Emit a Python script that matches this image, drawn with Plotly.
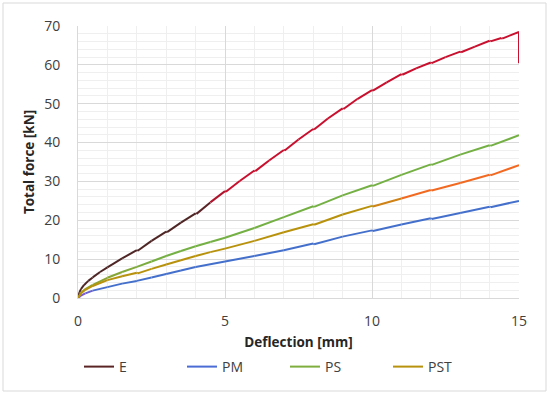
import plotly.graph_objects as go

# ---- data ----
e_x = [0, 0.05, 0.1, 0.2, 0.35, 0.5, 0.75, 1, 1.5, 2, 2.03, 2.5, 3, 3.03, 3.5, 4, 4.03, 4.5, 5, 5.03,
       5.5, 6, 6.03, 6.5, 7, 7.03, 7.5, 8, 8.03, 8.5, 9, 9.03, 9.5, 10, 10.03, 10.5, 11, 11.03, 11.5,
       12, 12.03, 12.5, 13, 13.03, 13.5, 14, 14.03, 14.4, 14.43, 15, 15]
e_y = [0, 1.5, 2.3, 3.3, 4.4, 5.3, 6.7, 7.9, 10.2, 12.3, 12.15, 14.7, 17.1, 16.95, 19.4, 21.8, 21.65, 24.6, 27.5, 27.35,
       30.1, 32.8, 32.65, 35.4, 38.1, 37.95, 40.8, 43.5, 43.35, 46.2, 48.8, 48.65, 51.2, 53.5, 53.35, 55.5, 57.6, 57.45,
       59.1, 60.6, 60.45, 62.0, 63.4, 63.25, 64.7, 66.2, 66.05, 66.9, 66.75, 68.5, 60.4]

pm_x = [0, 0.1, 0.25, 0.5, 1, 1.5, 2, 2.5, 3, 3.5, 4, 5, 6, 7, 8, 8.03, 9, 10, 10.03, 11, 12, 12.03, 13, 14, 14.03, 15]
pm_y = [0, 0.6, 1.2, 1.9, 2.8, 3.7, 4.4, 5.3, 6.2, 7.1, 8.0, 9.4, 10.8, 12.3, 14.0, 13.85, 15.8, 17.4, 17.25, 18.9,
        20.5, 20.35, 21.9, 23.5, 23.35, 25.0]

ps_x = [0, 0.1, 0.25, 0.5, 1, 1.5, 2, 2.5, 3, 3.5, 4, 4.5, 5, 6, 7, 8, 8.03, 9, 10, 10.03, 11, 12, 12.03, 13, 14,
        14.03, 15]
ps_y = [0, 1.3, 2.3, 3.4, 5.2, 6.7, 8.0, 9.4, 10.8, 12.1, 13.3, 14.4, 15.5, 18.0, 20.8, 23.6, 23.45, 26.4, 29.0, 28.85,
        31.7, 34.4, 34.25, 36.9, 39.3, 39.15, 41.9]

pst_x = [0, 0.1, 0.25, 0.5, 1, 1.5, 2, 2.03, 2.5, 3, 3.5, 4, 4.5, 5, 6, 7, 8, 8.03, 9, 10, 10.03, 11, 12, 12.03, 13,
         14, 14.03, 15]
pst_y = [0, 1.2, 2.1, 3.1, 4.6, 5.6, 6.5, 6.35, 7.5, 8.6, 9.7, 10.8, 11.8, 12.7, 14.7, 16.9, 19.0, 18.85, 21.5, 23.7,
         23.55, 25.6, 27.8, 27.65, 29.6, 31.7, 31.55, 34.2]

names = ["E", "PM", "PS", "PST"]
x_ticks = [0, 5, 10, 15]
y_ticks = [0, 10, 20, 30, 40, 50, 60, 70]

# styles: legend colour, start colour, end colour, transition range
styles = {
    "E":   ("#5a2424", "#4f2626", "#c8102e", (4.2, 4.9)),
    "PM":  ("#4a6cd4", "#8a52d6", "#4470cc", (0.0, 0.8)),
    "PS":  ("#7fae3f", "#93a030", "#74b044", (0.0, 3.0)),
    "PST": ("#b8920c", "#b8920c", "#f26a22", (10.2, 11.0)),
}
series = {"E": (e_x, e_y), "PM": (pm_x, pm_y), "PS": (ps_x, ps_y), "PST": (pst_x, pst_y)}


def hex2rgb(h):
    h = h.lstrip("#")
    return [int(h[i:i + 2], 16) for i in (0, 2, 4)]


def mix(c1, c2, t):
    a, b = hex2rgb(c1), hex2rgb(c2)
    return "rgb(%d,%d,%d)" % tuple(round(a[i] + (b[i] - a[i]) * t) for i in range(3))


fig = go.Figure()
for name in names:
    xs, ys = series[name]
    leg, c0, c1, (t0, t1) = styles[name]
    for i in range(len(xs) - 1):
        xm = (xs[i] + xs[i + 1]) / 2
        t = 0 if xm <= t0 else 1 if xm >= t1 else (xm - t0) / (t1 - t0)
        fig.add_trace(go.Scatter(x=xs[i:i + 2], y=ys[i:i + 2], mode="lines",
                                 line=dict(color=mix(c0, c1, t), width=2),
                                 showlegend=False, legendgroup=name, hoverinfo="skip"))
for name in names:
    fig.add_trace(go.Scatter(x=[None], y=[None], mode="lines", name=name,
                             line=dict(color=styles[name][0], width=2), legendgroup=name))

L, R, T, B = 78, 519, 26, 298
W, H = R - L, B - T


def px(xp):
    return (xp - L) / W


def py(yp):
    return (B - yp) / H


fig.add_shape(type="rect", xref="paper", yref="paper", x0=px(3), x1=px(546), y0=py(391), y1=py(3),
              line=dict(color="#d9d9d9", width=1), layer="below")

font = "'Open Sans', sans-serif"
fig.update_layout(
    width=550, height=395,
    margin=dict(l=L, r=550 - R, t=T, b=395 - B, autoexpand=False),
    paper_bgcolor="white", plot_bgcolor="white",
    font=dict(family=font, size=14, color="#404040"),
    showlegend=True,
    legend=dict(orientation="h", xref="container", yref="container",
                x=79 / 550, xanchor="left", y=1 - 367 / 395, yanchor="middle",
                entrywidth=58, entrywidthmode="pixels", font=dict(size=14, color="#404040"),
                itemwidth=30, tracegroupgap=0, bgcolor="rgba(0,0,0,0)"),
)
fig.update_xaxes(range=[0, 15], tickvals=x_ticks, ticktext=[str(v) for v in x_ticks],
                 showgrid=True, gridcolor="#d9d9d9", gridwidth=1,
                 minor=dict(dtick=1, showgrid=True, gridcolor="#efefef"),
                 zeroline=False, showline=True, linecolor="#d9d9d9", ticks="", ticklabelstandoff=10,
                 automargin=False,
                 title=dict(text="<b>Deflection [mm]</b>", standoff=8, font=dict(size=13.5, color="#262626")),
                 tickfont=dict(size=14, color="#404040"))
fig.update_yaxes(range=[0, 70], tickvals=y_ticks, ticktext=[str(v) for v in y_ticks],
                 showgrid=True, gridcolor="#d9d9d9", gridwidth=1,
                 minor=dict(dtick=2, showgrid=True, gridcolor="#efefef"),
                 zeroline=False, showline=True, linecolor="#d9d9d9", ticks="", ticklabelstandoff=14,
                 automargin=False,
                 title=dict(text="<b>Total force [kN]</b>", standoff=6, font=dict(size=13.5, color="#262626")),
                 tickfont=dict(size=14, color="#404040"))

fig.write_html("out.html", config={"displayModeBar": False},
               post_script="document.body.style.margin='0';")
